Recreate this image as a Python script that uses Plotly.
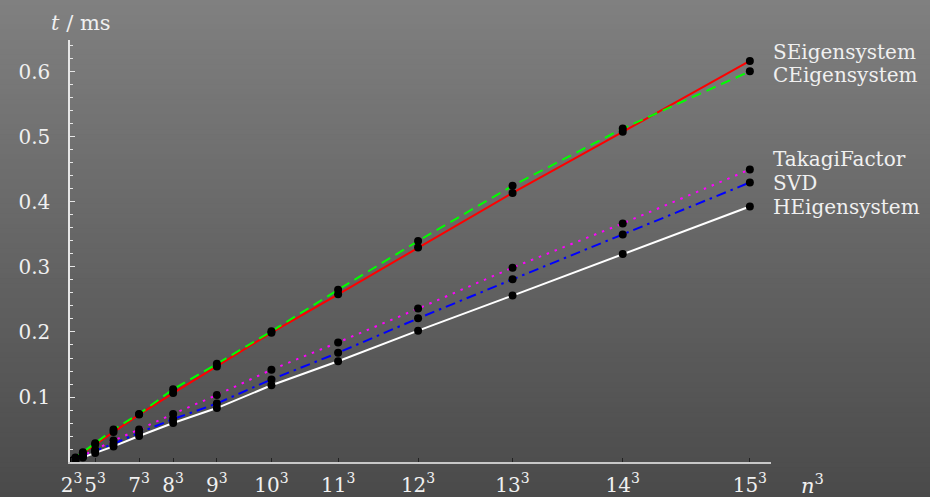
import plotly.graph_objects as go

# ---------------- data ----------------
n_values = [2, 3, 4, 5, 6, 7, 8, 9, 10, 11, 12, 13, 14, 15]
n_cubed = [8, 27, 64, 125, 216, 343, 512, 729, 1000, 1331, 1728, 2197, 2744, 3375]

seigensystem = [0.002, 0.006, 0.013, 0.027, 0.046, 0.073, 0.106, 0.147, 0.199, 0.258, 0.330, 0.414, 0.508, 0.617]
ceigensystem = [0.002, 0.007, 0.015, 0.029, 0.050, 0.074, 0.112, 0.151, 0.201, 0.265, 0.340, 0.425, 0.513, 0.601]
takagifactor = [0.001, 0.004, 0.009, 0.019, 0.033, 0.050, 0.074, 0.103, 0.142, 0.184, 0.236, 0.299, 0.367, 0.450]
svd = [0.001, 0.003, 0.008, 0.017, 0.028, 0.045, 0.066, 0.090, 0.127, 0.168, 0.221, 0.281, 0.350, 0.430]
heigensystem = [0.001, 0.003, 0.007, 0.014, 0.024, 0.040, 0.060, 0.083, 0.118, 0.155, 0.202, 0.256, 0.320, 0.393]

series_names = ["SEigensystem", "CEigensystem", "TakagiFactor", "SVD", "HEigensystem"]
series_values = [seigensystem, ceigensystem, takagifactor, svd, heigensystem]
label_y = [0.631, 0.596, 0.466, 0.429, 0.392]

x_tick_n = [2, 5, 7, 8, 9, 10, 11, 12, 13, 14, 15]
x_tick_vals = [8, 125, 343, 512, 729, 1000, 1331, 1728, 2197, 2744, 3375]
x_tick_text = [f"{k}<sup>3</sup>" for k in x_tick_n]
y_tick_vals = [0.1, 0.2, 0.3, 0.4, 0.5, 0.6]
y_tick_text = ["0.1", "0.2", "0.3", "0.4", "0.5", "0.6"]

# ---------------- styles ----------------
styles = [
    dict(color="#ff0000", dash="solid"),
    dict(color="#00ff00", dash="10px,6px"),
    dict(color="#ff00ff", dash="2.5px,6px"),
    dict(color="#0000ff", dash="10px,5px,2.5px,5px"),
    dict(color="#ffffff", dash="solid"),
]
FONT = "DejaVu Serif"
TXT = "#f0f0f0"

W, H = 930, 497
ML, MR, MT, MB = 70, 159, 40, 35
PW, PH = W - ML - MR, H - MT - MB

fig = go.Figure()

for name, vals, st in zip(series_names, series_values, styles):
    fig.add_trace(go.Scatter(
        x=n_cubed, y=vals, mode="lines", name=name,
        line=dict(color=st["color"], width=2, dash=st["dash"]),
        showlegend=False, hoverinfo="skip"))

for name, vals in zip(series_names, series_values):
    fig.add_trace(go.Scatter(
        x=n_cubed, y=vals, mode="markers", name=name,
        marker=dict(color="black", size=8, line=dict(width=0)),
        showlegend=False))

# ---------------- gradient background ----------------
top_c, bot_c = 128, 74
N = 100
shapes = []
for i in range(N):
    py0 = i * H / N
    py1 = (i + 1) * H / N + 0.8
    t = (i + 0.5) / N
    c = round(top_c + (bot_c - top_c) * t)
    shapes.append(dict(
        type="rect", xref="paper", yref="paper", layer="below",
        x0=(0 - ML - 2) / PW, x1=(W - ML + 2) / PW,
        y0=(H - MB - py1 - (6 if i == N - 1 else 0)) / PH,
        y1=(H - MB - py0 + (6 if i == 0 else 0)) / PH,
        line=dict(width=0), fillcolor=f"rgb({c},{c},{c})"))

annotations = []
for name, ly in zip(series_names, label_y):
    annotations.append(dict(
        x=3375, y=ly, xref="x", yref="y", xanchor="left", yanchor="middle",
        xshift=21, text=name, showarrow=False,
        font=dict(family=FONT, size=20, color=TXT)))

annotations.append(dict(
    x=(81 - ML) / PW, y=(H - MB - 23) / PH, xref="paper", yref="paper",
    xanchor="center", yanchor="middle", text="<i>t</i> / ms", showarrow=False,
    font=dict(family=FONT, size=21, color=TXT)))
annotations.append(dict(
    x=(799 - ML) / PW, y=(H - MB - 484) / PH, xref="paper", yref="paper",
    xanchor="left", yanchor="middle", text="<i>n</i><sup>3</sup>", showarrow=False,
    font=dict(family=FONT, size=21, color=TXT)))

fig.update_layout(
    width=W, height=H, autosize=False,
    margin=dict(l=ML, r=MR, t=MT, b=MB, pad=0, autoexpand=False),
    paper_bgcolor="rgb(78,78,78)",
    plot_bgcolor="rgba(0,0,0,0)",
    shapes=shapes,
    annotations=annotations,
    showlegend=False,
    xaxis=dict(
        range=[0, 3480], showgrid=False, zeroline=False, automargin=False,
        showline=True, linecolor="#c8c8c8", linewidth=1.5,
        ticks="inside", ticklen=4, tickcolor="#222222", tickwidth=1,
        tickvals=x_tick_vals, ticktext=x_tick_text, tickangle=0,
        tickfont=dict(family=FONT, size=20, color=TXT),
        ticklabelstandoff=4),
    yaxis=dict(
        range=[0, 0.6492], showgrid=False, zeroline=False, automargin=False,
        showline=True, linecolor="#e6e6e6", linewidth=1.5,
        ticks="inside", ticklen=5, tickcolor="#e6e6e6", tickwidth=1,
        tickvals=y_tick_vals, ticktext=y_tick_text,
        tickfont=dict(family=FONT, size=20, color=TXT),
        ticklabelstandoff=14,
        minor=dict(ticks="inside", ticklen=3, tickcolor="#e6e6e6",
                   dtick=0.02, tick0=0, showgrid=False)),
)

fig.write_html(
    "out.html",
    config={"displayModeBar": False, "responsive": False},
    post_script="document.body.style.margin='0px';document.body.style.overflow='hidden';",
)
